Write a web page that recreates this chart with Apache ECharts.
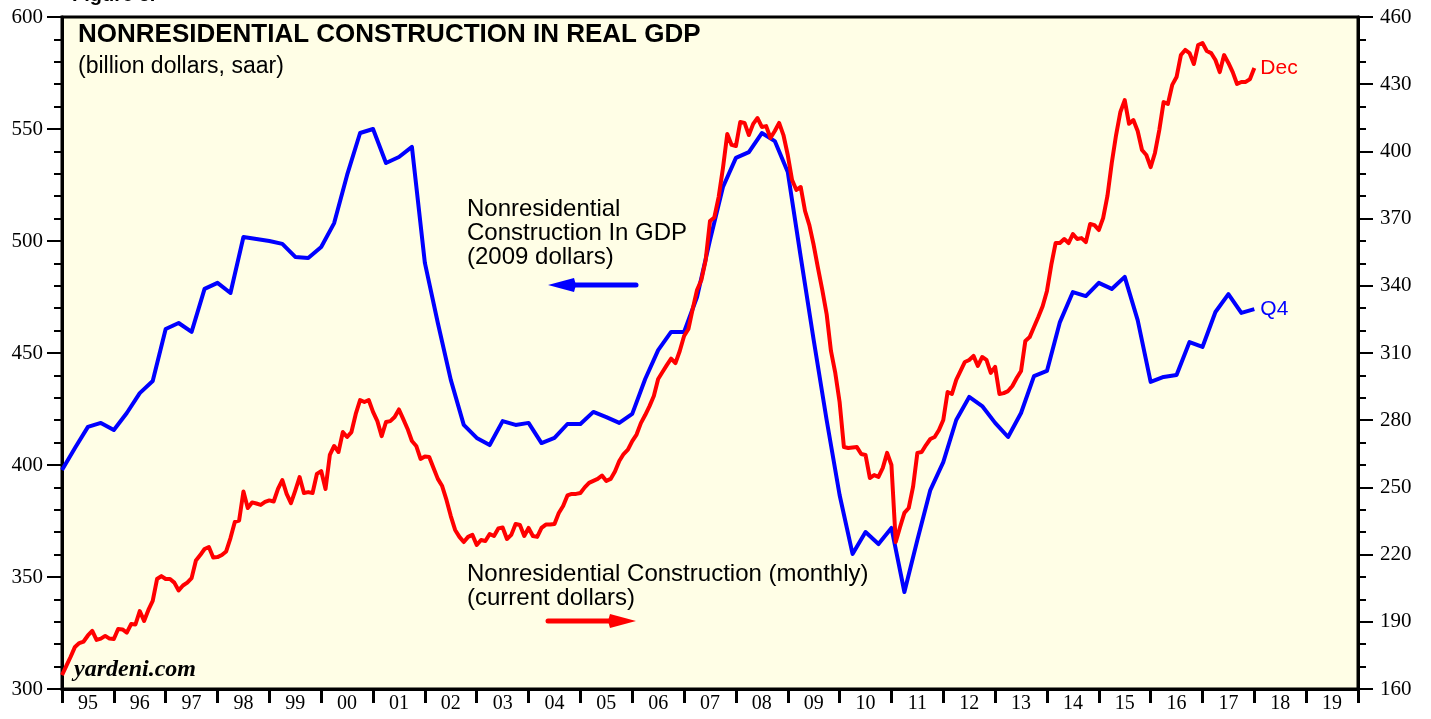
<!DOCTYPE html>
<html>
<head>
<meta charset="utf-8">
<script src="https://cdn.jsdelivr.net/npm/echarts@6/dist/echarts.min.js"></script>
<style>
  html, body { margin: 0; padding: 0; background: #fff; }
  #chart { width: 1431px; height: 719px; }
</style>
</head>
<body>
<div id="chart"></div>
<script>
// x-axis year labels (one per calendar year, label in the middle of the year)
var yearLabels = ['95','96','97','98','99','00','01','02','03','04','05','06','07','08',
  '09','10','11','12','13','14','15','16','17','18','19'];

// Real nonresidential construction in GDP, quarterly, 1994Q4 .. 2017Q4 (left axis)
var realGdpQ = [
  397.8, 407.6, 417.0, 418.8, 415.6,
  423.2, 432.1, 437.5, 460.7,
  463.4, 459.4, 478.6, 481.3,
  476.8, 501.8, 500.9, 500.0,
  498.7, 492.9, 492.4, 497.3,
  508.0, 529.5, 548.2, 550.0,
  534.8, 537.5, 542.0, 490.2,
  463.4, 438.0, 417.9, 412.1,
  408.9, 419.6, 417.9, 418.8,
  409.8, 412.1, 418.3, 418.3,
  423.7, 421.4, 418.8, 422.8,
  438.4, 451.3, 459.4, 459.4,
  475.0, 500.4, 524.1, 537.1,
  539.7, 548.2, 544.6, 530.8,
  492.9, 455.8, 420.1, 386.6,
  360.3, 370.1, 364.7, 371.9,
  343.3, 366.5, 388.8, 401.3,
  420.1, 430.4, 426.3, 418.8,
  412.5, 423.2, 439.7, 442.0,
  463.8, 477.2, 475.4, 481.3,
  478.6, 484.0, 464.7, 437.1,
  439.3, 440.2, 454.9, 452.7,
  468.3, 476.3, 467.9, 469.6
];

// Nonresidential construction, monthly, current dollars, Dec 1994 .. Dec 2017 (right axis)
var nominalM = [
  166.2, 170.3, 174.4, 178.8, 180.5, 181.2, 183.9, 185.9, 181.9, 182.5, 183.7, 182.5, 182.3,
  186.8, 186.6, 185.2, 189.0, 188.8, 194.8, 190.4, 195.3, 199.3, 209.1, 210.4, 209.1,
  209.1, 207.5, 204.0, 206.2, 207.5, 209.5, 217.4, 219.8, 222.5, 223.4, 218.7, 218.9,
  219.8, 221.4, 227.4, 234.6, 235.2, 248.2, 240.8, 243.3, 242.8, 242.2, 243.5, 244.2,
  243.7, 249.3, 253.3, 247.1, 243.0, 248.6, 254.6, 247.5, 247.9, 247.5, 256.0, 257.3,
  249.3, 264.5, 268.5, 265.8, 274.7, 272.5, 274.7, 282.8, 289.0, 288.1, 289.0, 283.7,
  279.6, 272.9, 279.2, 279.6, 281.4, 284.8, 280.5, 276.1, 270.7, 268.5, 262.7, 263.8,
  263.6, 258.7, 253.8, 250.6, 244.4, 237.2, 231.0, 227.9, 225.6, 227.9, 228.8, 224.3,
  226.5, 226.1, 229.2, 228.3, 231.7, 232.1, 227.0, 228.8, 233.7, 233.2, 228.3, 231.9,
  228.3, 227.9, 231.9, 233.4, 233.4, 233.7, 238.6, 241.7, 246.4, 247.1, 247.1, 247.5,
  250.0, 252.0, 252.9, 253.8, 255.3, 252.9, 253.8, 257.1, 261.8, 264.9, 266.9, 270.7,
  273.6, 278.7, 282.3, 286.3, 290.8, 298.4, 301.5, 304.6, 307.5, 305.5, 310.9, 317.6,
  320.7, 329.7, 338.1, 342.6, 351.5, 368.9, 370.5, 379.6, 392.6, 407.8, 402.9, 402.4,
  413.1, 412.7, 407.3, 412.3, 414.9, 410.9, 411.3, 406.0, 409.1, 412.7, 407.3, 398.4,
  387.2, 382.8, 384.1, 373.4, 367.1, 358.2, 347.9, 338.1, 327.4, 310.9, 301.1, 288.1,
  268.0, 267.6, 267.8, 268.0, 264.9, 264.5, 254.2, 255.5, 254.7, 258.7, 265.4, 260.0,
  225.6, 232.3, 238.6, 240.8, 250.2, 265.4, 265.8, 268.9, 271.6, 272.5, 275.6, 280.1,
  292.6, 291.7, 298.0, 302.0, 306.0, 306.9, 308.7, 304.2, 308.2, 306.9, 301.1, 303.8,
  291.7, 292.1, 293.0, 295.3, 298.8, 302.0, 315.4, 317.1, 321.6, 326.1, 330.9, 337.7,
  349.3, 359.1, 359.1, 360.9, 359.1, 363.1, 360.9, 361.3, 359.5, 367.6, 367.1, 364.9,
  370.2, 380.1, 394.8, 407.3, 417.6, 422.9, 412.3, 414.0, 409.1, 400.6, 398.4, 393.0,
  399.3, 409.5, 422.0, 421.2, 429.7, 433.2, 443.0, 445.3, 443.9, 439.0, 447.5, 448.4,
  444.8, 443.9, 440.8, 435.4, 443.0, 439.5, 435.4, 430.1, 431.0, 431.0, 432.3, 437.2
];

// data points sit at the end of their period: 1994Q4 / Dec 1994 = 1995.0
var qData = realGdpQ.map(function (v, i) { return [1995 + i / 4, v]; });
var mData = nominalM.map(function (v, i) { return [1995 + i / 12, v]; });

var SANS = 'Liberation Sans, Arial, Helvetica, sans-serif';
var SERIF = 'Liberation Serif, Times New Roman, serif';

var chart = echarts.init(document.getElementById('chart'));

function arrow(x1, x2, y, color, headLeft) {
  // shaft + triangle head
  var tip = headLeft ? x1 : x2;
  var base = headLeft ? x1 + 26 : x2 - 26;
  return [
    { type: 'line', shape: { x1: headLeft ? base : x1, y1: y, x2: headLeft ? x2 : base, y2: y },
      style: { stroke: color, lineWidth: 5, lineCap: 'round' }, z: 10 },
    { type: 'polygon', shape: { points: [[tip, y], [base, y - 7], [base - (headLeft ? -2 : 2), y], [base, y + 7]] },
      style: { fill: color }, z: 10 }
  ];
}

var option = {
  backgroundColor: '#ffffff',
  animation: false,
  grid: {
    left: 62, right: 73, top: 17, bottom: 30,
    show: true, backgroundColor: '#FFFEE6', borderColor: '#000', borderWidth: 3
  },
  xAxis: [
    {
      type: 'category',
      data: yearLabels,
      boundaryGap: true,
      axisLine: { lineStyle: { color: '#000', width: 3 } },
      axisTick: { show: true, length: 14, lineStyle: { color: '#000', width: 3 } },
      axisLabel: { color: '#000', fontFamily: SERIF, fontSize: 20, margin: 5 },
      splitLine: { show: false }
    },
    {
      type: 'value', min: 1995, max: 2020, show: false
    }
  ],
  yAxis: [
    {
      type: 'value', min: 300, max: 600, interval: 50, position: 'left',
      axisLine: { show: true, lineStyle: { color: '#000', width: 3 } },
      axisTick: { show: true, length: 15, lineStyle: { color: '#000', width: 2 } },
      minorTick: { show: true, splitNumber: 5, length: 8, lineStyle: { color: '#000', width: 2 } },
      axisLabel: { color: '#000', fontFamily: SERIF, fontSize: 21, margin: 19 },
      splitLine: { show: false }
    },
    {
      type: 'value', min: 160, max: 460, interval: 30, position: 'right',
      axisLine: { show: true, lineStyle: { color: '#000', width: 3 } },
      axisTick: { show: true, length: 15, lineStyle: { color: '#000', width: 2 } },
      minorTick: { show: true, splitNumber: 3, length: 8, lineStyle: { color: '#000', width: 2 } },
      axisLabel: { color: '#000', fontFamily: SERIF, fontSize: 21, margin: 22 },
      splitLine: { show: false }
    }
  ],
  series: [
    {
      name: 'Nonresidential Construction In GDP (2009 dollars)',
      type: 'line', xAxisIndex: 1, yAxisIndex: 0,
      data: qData, showSymbol: false, symbol: 'none',
      lineStyle: { color: '#0000FF', width: 4, join: 'round' },
      endLabel: { show: true, formatter: 'Q4', color: '#0000FF', fontFamily: SANS, fontSize: 21, distance: 6 },
      z: 3
    },
    {
      name: 'Nonresidential Construction (monthly) (current dollars)',
      type: 'line', xAxisIndex: 1, yAxisIndex: 1,
      data: mData, showSymbol: false, symbol: 'none',
      lineStyle: { color: '#FF0000', width: 4, join: 'round' },
      endLabel: { show: true, formatter: 'Dec', color: '#FF0000', fontFamily: SANS, fontSize: 21, distance: 6 },
      z: 4
    }
  ],
  graphic: [
    { type: 'text', left: 72, top: -15, style: { text: 'Figure 5.', fill: '#000', font: 'bold 20px ' + SANS } },
    { type: 'text', left: 78, top: 22, z: 20,
      style: { text: 'NONRESIDENTIAL CONSTRUCTION IN REAL GDP', fill: '#000', font: 'bold 26px ' + SANS } },
    { type: 'text', left: 78, top: 55, z: 20,
      style: { text: '(billion dollars, saar)', fill: '#000', font: '23px ' + SANS } },
    { type: 'text', left: 467, top: 197, z: 20,
      style: { text: 'Nonresidential\nConstruction In GDP\n(2009 dollars)', fill: '#000', font: '24px ' + SANS, lineHeight: 24 } },
    { type: 'text', left: 467, top: 562, z: 20,
      style: { text: 'Nonresidential Construction (monthly)\n(current dollars)', fill: '#000', font: '24px ' + SANS, lineHeight: 24 } },
    { type: 'text', left: 74, top: 658, z: 20,
      style: { text: 'yardeni.com', fill: '#000', font: 'italic bold 24px ' + SERIF } }
  ].concat(arrow(548, 636, 285, '#0000FF', true)).concat(arrow(548, 636, 621, '#FF0000', false))
};

chart.setOption(option);
</script>
</body>
</html>
